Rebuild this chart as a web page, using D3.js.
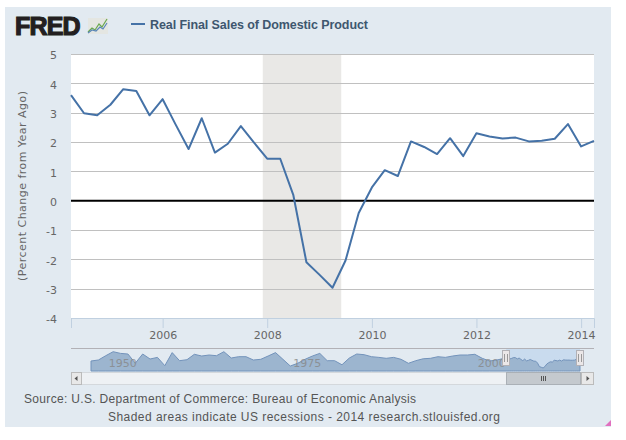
<!DOCTYPE html>
<html><head><meta charset="utf-8">
<script src="https://cdn.jsdelivr.net/npm/d3@7"></script>
<style>body{margin:0;background:#fff}svg{display:block}</style>
</head><body><svg id="c" width="626" height="440"></svg>
<script>
// ---- data ----
const seriesName = "Real Final Sales of Domestic Product";
const quarterDates = ["2004-04-01","2004-07-01","2004-10-01","2005-01-01","2005-04-01","2005-07-01","2005-10-01",
  "2006-01-01","2006-04-01","2006-07-01","2006-10-01","2007-01-01","2007-04-01","2007-07-01","2007-10-01",
  "2008-01-01","2008-04-01","2008-07-01","2008-10-01","2009-01-01","2009-04-01","2009-07-01","2009-10-01",
  "2010-01-01","2010-04-01","2010-07-01","2010-10-01","2011-01-01","2011-04-01","2011-07-01","2011-10-01",
  "2012-01-01","2012-04-01","2012-07-01","2012-10-01","2013-01-01","2013-04-01","2013-07-01","2013-10-01",
  "2014-01-01","2014-04-01"];
const values = [3.60,2.98,2.91,3.27,3.80,3.74,2.91,3.46,2.60,1.76,
  2.81,1.64,1.94,2.54,1.98,1.43,1.43,0.20,-2.10,-2.53,
  -2.97,-2.04,-0.42,0.45,1.04,0.84,2.02,1.83,1.59,2.13,
  1.52,2.30,2.19,2.12,2.15,2.02,2.04,2.11,2.61,1.85,2.04];
const yTicks = [5,4,3,2,1,0,-1,-2,-3,-4];
const yTickLabels = ["5","4","3","2","1","0","-1","-2","-3","-4"];
const xTickLabels = ["2006","2008","2010","2012","2014"];
const recession = ["2007-12-01","2009-06-01"];
// navigator (full history, annual readings before 2004)
const navYears = [1948,1949,1950,1951,1952,1953,1954,1955,1956,1957,1958,1959,1960,1961,1962,1963,1964,1965,
  1966,1967,1968,1969,1970,1971,1972,1973,1974,1975,1976,1977,1978,1979,1980,1981,1982,1983,1984,1985,
  1986,1987,1988,1989,1990,1991,1992,1993,1994,1995,1996,1997,1998,1999,2000,2001,2002,2003];
const navValues = [1.55,2.2,5.0,7.6,6.5,6.1,0.1,6.1,2.85,3.9,-1.5,7.0,1.75,2.4,5.9,4.8,5.45,5.0,
  7.6,3.5,4.35,4.35,2.2,2.65,4.8,7.0,2.65,-1.7,0.05,2.65,4.8,6.5,1.75,1.75,-0.9,3.5,6.1,5.65,
  4.35,3.9,3.3,3.9,2.65,0.05,1.75,3.0,3.3,4.35,3.9,4.8,5.45,5.45,5.9,3.3,1.55,2.2];
const navTickLabels = ["1950","1975","2000"];
const sourceText = "Source: U.S. Department of Commerce: Bureau of Economic Analysis";
const creditText = "Shaded areas indicate US recessions - 2014 research.stlouisfed.org";

// ---- drawing ----
const parse = d3.timeParse("%Y-%m-%d");
const svg = d3.select("#c");
const data = quarterDates.map((d,i)=>({date:parse(d), v:values[i]}));

svg.append("rect").attr("x",5).attr("y",7).attr("width",606).attr("height",420).attr("fill","#e2eaf1");

const L=71, R=594, T=54, B=318;
const x = d3.scaleTime().domain([data[0].date, data[data.length-1].date]).range([L,R]);
const y = d3.scaleLinear().domain([-4,5]).range([B,T]);

svg.append("rect").attr("x",L).attr("y",T).attr("width",R-L).attr("height",B-T).attr("fill","#fff");

// recession band
svg.append("rect").attr("x",x(parse(recession[0]))).attr("y",T)
  .attr("width",x(parse(recession[1]))-x(parse(recession[0]))).attr("height",B-T).attr("fill","#e9e8e6");

// gridlines
svg.append("g").selectAll("line").data(yTicks.filter(t=>t!==0)).join("line")
  .attr("x1",L).attr("x2",R).attr("y1",d=>Math.round(y(d))+0.5).attr("y2",d=>Math.round(y(d))+0.5)
  .attr("stroke","#c0c0c0").attr("stroke-width",1);

// y axis
const yAx = svg.append("g").attr("transform",`translate(${L},0)`)
  .call(d3.axisLeft(y).tickValues(yTicks).tickSize(0).tickPadding(14).tickFormat(d=>yTickLabels[yTicks.indexOf(d)]));
yAx.select(".domain").remove();
yAx.selectAll("text").attr("font-family","DejaVu Sans").attr("font-size",11).attr("fill","#666").attr("dy","0.45em");

// x axis
const xAx = svg.append("g").attr("transform",`translate(0,${B})`)
  .call(d3.axisBottom(x).tickValues(xTickLabels.map(s=>parse(s+"-01-01"))).tickSize(10).tickPadding(3)
    .tickFormat(d=>xTickLabels[xTickLabels.indexOf(d3.timeFormat("%Y")(d))]));
xAx.select(".domain").attr("stroke","#c0d0e0");
xAx.selectAll(".tick line").attr("stroke","#c0d0e0");
xAx.selectAll("text").attr("font-family","DejaVu Sans").attr("font-size",11).attr("fill","#666");

// zero line
svg.append("line").attr("x1",L).attr("x2",R).attr("y1",y(0)).attr("y2",y(0)).attr("stroke","#000").attr("stroke-width",2);

// series line
svg.append("path").datum(data).attr("fill","none").attr("stroke","#4572a7").attr("stroke-width",2)
  .attr("stroke-linejoin","round")
  .attr("d",d3.line().x(d=>x(d.date)).y(d=>y(d.v)));

// y title
svg.append("text").attr("transform",`translate(26,${(T+B)/2}) rotate(-90)`).attr("text-anchor","middle")
  .attr("font-family","DejaVu Sans").attr("font-size",11).attr("fill","#666")
  .attr("textLength",190).text("(Percent Change from Year Ago)");

// FRED logo
svg.append("text").attr("x",15).attr("y",35).attr("font-family","Liberation Sans").attr("font-weight","bold")
  .attr("font-size",25).attr("fill","#231f20").attr("stroke","#231f20").attr("stroke-width",1.2)
  .attr("letter-spacing","-0.8").text("FRED");
const ic = svg.append("g");
ic.append("rect").attr("x",88).attr("y",18).attr("width",20).attr("height",16).attr("fill","#e4e6e2");
ic.append("path").attr("d","M88,32 L92,28 L95,30 L99,24 L102,27 L107,19").attr("fill","none").attr("stroke","#6aa84f").attr("stroke-width",1.2);
ic.append("path").attr("d","M88,33 L92,30 L96,31 L100,27 L103,29 L107,23").attr("fill","none").attr("stroke","#5a86b8").attr("stroke-width",1.2);

// legend
svg.append("line").attr("x1",131).attr("x2",145).attr("y1",24).attr("y2",24).attr("stroke","#4572a7").attr("stroke-width",2);
svg.append("text").attr("x",150).attr("y",28.5).attr("font-family","Liberation Sans").attr("font-weight","bold")
  .attr("font-size",12.5).attr("fill","#3e576f").attr("textLength",218).text(seriesName);

// navigator
const navData = navYears.map((yr,i)=>({date:new Date(yr,0,1), v:navValues[i]})).concat(data);
const nx = d3.scaleTime().domain([new Date(1948,0,1), data[data.length-1].date]).range([91,580]);
const ny = d3.scaleLinear().domain([-3,8.7]).range([368,350]);
const NT=348, NB=371;
svg.append("rect").attr("x",nx(data[0].date)).attr("y",NT).attr("width",nx(data[data.length-1].date)-nx(data[0].date))
  .attr("height",NB-NT).attr("fill","#c9dbee");
svg.append("path").datum(navData).attr("fill","#9cb5cf").attr("stroke","#7393bb").attr("stroke-width",1)
  .attr("d",d3.area().x(d=>nx(d.date)).y0(NB).y1(d=>ny(d.v)));
svg.append("g").selectAll("text").data(navTickLabels).join("text")
  .attr("x",d=>nx(parse(d+"-01-01"))+3).attr("y",367).attr("font-family","DejaVu Sans").attr("font-size",11)
  .attr("fill","#888").attr("opacity",0.8).text(d=>d);
svg.append("line").attr("x1",L).attr("x2",R).attr("y1",NT+0.5).attr("y2",NT+0.5).attr("stroke","#b2b1b6");
// handles
[data[0].date, data[data.length-1].date].forEach(dt=>{
  const hx = Math.round(nx(dt));
  svg.append("rect").attr("x",hx-3.5).attr("y",350.5).attr("width",7).attr("height",15).attr("fill","#ebe7e8").attr("stroke","#b2b1b6");
  svg.append("line").attr("x1",hx-1.5).attr("x2",hx-1.5).attr("y1",354).attr("y2",362).attr("stroke","#999");
  svg.append("line").attr("x1",hx+1.5).attr("x2",hx+1.5).attr("y1",354).attr("y2",362).attr("stroke","#999");
});
// scrollbar
const SY=372, SH=12;
svg.append("rect").attr("x",L+0.5).attr("y",SY+0.5).attr("width",R-L-1).attr("height",SH).attr("fill","#eef1f4").attr("stroke","#d4d8dc");
const t0 = Math.round(nx(data[0].date)), t1 = Math.round(nx(data[data.length-1].date));
svg.append("rect").attr("x",t0+0.5).attr("y",SY+0.5).attr("width",t1-t0).attr("height",SH).attr("fill","#c4c9ce").attr("stroke","#aab0b6");
[-2,0,2].forEach(o=>svg.append("line").attr("x1",(t0+t1)/2+o+0.5).attr("x2",(t0+t1)/2+o+0.5).attr("y1",SY+4).attr("y2",SY+9).attr("stroke","#555"));
svg.append("rect").attr("x",L+0.5).attr("y",SY+0.5).attr("width",10).attr("height",SH).attr("fill","#e8e8e8").attr("stroke","#bbb");
svg.append("path").attr("d",`M${L+3.5},${SY+6.5} L${L+6.5},${SY+4} L${L+6.5},${SY+9} Z`).attr("fill","#555");
svg.append("rect").attr("x",t1+1.5).attr("y",SY+0.5).attr("width",R-t1-2).attr("height",SH).attr("fill","#e8e8e8").attr("stroke","#bbb");
svg.append("path").attr("d",`M${R-4.5},${SY+6.5} L${R-7.5},${SY+4} L${R-7.5},${SY+9} Z`).attr("fill","#555");

// footer
svg.append("text").attr("x",24).attr("y",403).attr("font-family","Liberation Sans").attr("font-size",12)
  .attr("fill","#555").attr("textLength",392).text(sourceText);
svg.append("text").attr("x",108).attr("y",421).attr("font-family","Liberation Sans").attr("font-size",12)
  .attr("fill","#555").attr("textLength",392).text(creditText);
svg.append("path").attr("d","M611,420 L611,426 L605,426 Z").attr("fill","#e070c0");
</script></body></html>
